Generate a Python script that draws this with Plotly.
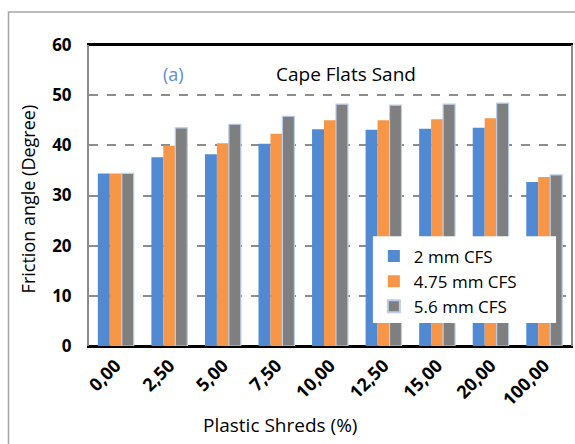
import plotly.graph_objects as go

# Friction angle of Cape Flats Sand mixed with plastic shreds
shred_content = ["0,00", "2,50", "5,00", "7,50", "10,00", "12,50", "15,00", "20,00", "100,00"]
cfs_2mm = [34.4, 37.6, 38.2, 40.3, 43.2, 43.1, 43.3, 43.5, 32.7]
cfs_475mm = [34.4, 39.9, 40.4, 42.3, 45.0, 45.0, 45.2, 45.4, 33.7]
cfs_56mm = [34.4, 43.5, 44.2, 45.8, 48.2, 48.0, 48.2, 48.4, 34.1]
y_ticks = [0, 10, 20, 30, 40, 50, 60]

FONT = "Open Sans"

fig = go.Figure()
fig.add_trace(go.Bar(name="2 mm CFS", x=shred_content, y=cfs_2mm,
                     marker=dict(color="#5189d3", line=dict(width=0))))
fig.add_trace(go.Bar(name="4.75 mm CFS", x=shred_content, y=cfs_475mm,
                     marker=dict(color="#f79646", line=dict(width=0))))
fig.add_trace(go.Bar(name="5.6 mm CFS", x=shred_content, y=cfs_56mm,
                     marker=dict(color="#7f7f7f", line=dict(color="#b9cdee", width=1.2))))

fig.update_layout(
    width=575, height=444,
    margin=dict(l=89, r=2, t=45, b=98),
    paper_bgcolor="white", plot_bgcolor="white",
    barmode="group", bargap=0.33, bargroupgap=0,
    font=dict(family=FONT, color="black"),
    showlegend=True,
    legend=dict(x=0.591, y=0.357, xanchor="left", yanchor="top",
                bgcolor="rgba(0,0,0,0)", font=dict(size=17, family=FONT),
                tracegroupgap=0, itemsizing="constant"),
)

fig.update_xaxes(
    type="category", tickangle=-45,
    tickfont=dict(size=18, family=FONT, weight="bold"),
    showline=True, linecolor="black", linewidth=2, mirror=True,
    showgrid=False, ticks="",
)
fig.update_yaxes(
    range=[0, 60], tickvals=y_ticks,
    tickfont=dict(size=17, family=FONT, weight="bold"),
    ticklabelstandoff=12,
    showline=True, linecolor="#8c8c8c", linewidth=2, mirror=True,
    showgrid=True, gridcolor="#8c8c8c", griddash="dash", gridwidth=1.5,
    zeroline=True, zerolinecolor="black", zerolinewidth=2,
)

# top border of plot area in black
fig.add_shape(type="line", xref="paper", yref="paper", x0=0, x1=1, y0=1, y1=1,
              line=dict(color="black", width=2))

# white legend panel covering the bars behind it
fig.add_shape(type="rect", xref="paper", yref="paper",
              x0=0.589, x1=0.969, y0=0.076, y1=0.365,
              fillcolor="white", line=dict(width=0), layer="above")

# outer chart frame
fig.add_shape(type="rect", xref="paper", yref="paper",
              x0=-0.167, x1=1.02, y0=-0.6, y1=1.11,
              line=dict(color="#a6a6a6", width=1.5), layer="below")

fig.add_annotation(text="(a)", xref="paper", yref="paper", x=0.175, y=0.905,
                   xanchor="center", yanchor="middle", showarrow=False,
                   font=dict(size=18, color="#5b8dd6", family=FONT))
fig.add_annotation(text="Cape Flats Sand", xref="paper", yref="paper", x=0.533, y=0.905,
                   xanchor="center", yanchor="middle", showarrow=False,
                   font=dict(size=19, color="black", family=FONT))
fig.add_annotation(text="Friction angle (Degree)", xref="paper", yref="paper",
                   x=-0.126, y=0.488, textangle=-90, xanchor="center", yanchor="middle",
                   showarrow=False, font=dict(size=18, color="black", family=FONT))
fig.add_annotation(text="Plastic Shreds (%)", xref="paper", yref="paper",
                   x=0.397, y=-0.262, xanchor="center", yanchor="middle",
                   showarrow=False, font=dict(size=19, color="black", family=FONT))

fig.write_html("out.html")
